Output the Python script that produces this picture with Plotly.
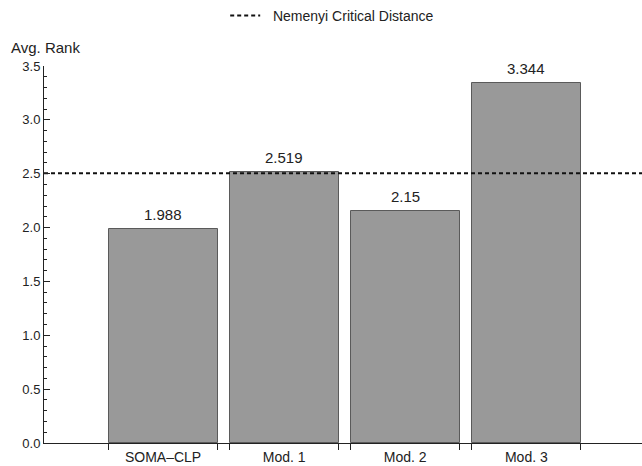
import plotly.graph_objects as go

categories = ["SOMA\u2013CLP", "Mod. 1", "Mod. 2", "Mod. 3"]
avg_rank = [1.988, 2.519, 2.15, 3.344]
value_labels = ["1.988", "2.519", "2.15", "3.344"]
critical_distance = 2.505
y_tick_vals = [0.0, 0.5, 1.0, 1.5, 2.0, 2.5, 3.0, 3.5]

FONT = "Liberation Sans, Arial, sans-serif"
bar_width = 0.9
x_range = [-0.983, 3.955]
xs = list(range(len(categories)))
edges = []
for i in xs:
    edges += [i - bar_width / 2, i + bar_width / 2]

fig = go.Figure()
fig.add_trace(go.Bar(
    x=xs, y=avg_rank, width=bar_width,
    marker=dict(color="#999999", line=dict(color="#5a5a5a", width=1)),
    showlegend=False, hoverinfo="skip",
))
fig.add_trace(go.Scatter(
    x=x_range, y=[critical_distance, critical_distance],
    mode="lines", name="\u00a0\u00a0Nemenyi Critical Distance",
    line=dict(color="#111111", width=2, dash="4px,3px"),
    xaxis="x2", hoverinfo="skip",
))

for i, (v, t) in enumerate(zip(avg_rank, value_labels)):
    fig.add_annotation(x=i, y=v, text=t, showarrow=False, xref="x", yref="y",
                       yanchor="bottom", yshift=4,
                       font=dict(family=FONT, size=15, color="#222222"))

fig.add_annotation(text="Avg. Rank", xref="paper", yref="paper",
                   x=-0.058, y=1.05, xanchor="left", yanchor="middle",
                   showarrow=False, font=dict(family=FONT, size=15, color="#222222"))

fig.update_layout(
    width=642, height=466,
    margin=dict(l=44, r=0, t=66, b=23, autoexpand=False),
    paper_bgcolor="white", plot_bgcolor="white",
    font=dict(family=FONT, size=13, color="#222222"),
    bargap=0,
    xaxis=dict(
        range=x_range, tickvals=xs, ticktext=categories,
        ticks="outside", ticklen=1, tickcolor="rgba(0,0,0,0)",
        showline=True, linecolor="#222222", linewidth=1,
        showgrid=False, zeroline=False, fixedrange=True, automargin=False,
        tickfont=dict(family=FONT, size=14, color="#222222"),
    ),
    xaxis2=dict(
        range=x_range, overlaying="x", anchor="y", side="bottom",
        tickvals=edges, ticks="outside", ticklen=6, tickcolor="#222222",
        tickwidth=1, showticklabels=False, showline=False, showgrid=False,
        zeroline=False, fixedrange=True,
    ),
    yaxis=dict(
        range=[0, 3.5], tickvals=y_tick_vals, tickformat=".1f",
        ticks="inside", ticklen=6, tickcolor="#222222", tickwidth=1,
        minor=dict(dtick=0.1, ticks="inside", ticklen=3, tickcolor="#222222"),
        showline=True, linecolor="#222222", linewidth=1,
        showgrid=False, zeroline=False, fixedrange=True, automargin=False,
        tickfont=dict(family=FONT, size=13, color="#222222"),
    ),
    showlegend=True,
    legend=dict(orientation="h", x=0.303, y=1.133, xanchor="left", yanchor="middle",
                bgcolor="rgba(0,0,0,0)", font=dict(family=FONT, size=14, color="#222222")),
)

fig.write_html("out.html", config={"displayModeBar": False},
               post_script="document.body.style.margin='0';")
